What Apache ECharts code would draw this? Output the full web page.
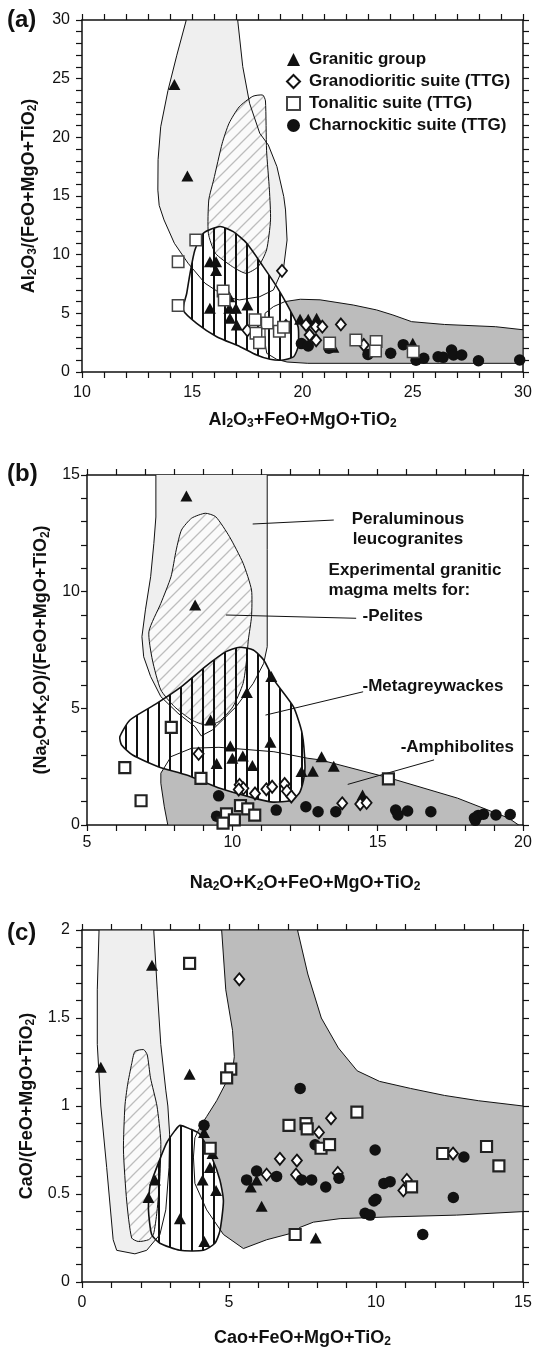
<!DOCTYPE html>
<html>
<head>
<meta charset="utf-8">
<script src="https://cdn.jsdelivr.net/npm/echarts@6/dist/echarts.min.js"></script>
<style>
  html, body { margin: 0; padding: 0; background: #fff; }
  #chart { width: 536px; height: 1349px; }
</style>
</head>
<body>
<div id="chart"></div>
<script>
// ---------------- data ----------------
const NAMES = ['Granitic group', 'Granodioritic suite (TTG)', 'Tonalitic suite (TTG)', 'Charnockitic suite (TTG)'];

// axis ranges: [min, max, major step]
const aXAxis = [10, 30, 5], aYAxis = [0, 30, 5];
const bXAxis = [5, 20, 5],  bYAxis = [0, 15, 5];
const cXAxis = [0, 15, 5],  cYAxis = [0, 2, 0.5];

// (a) Al2O3/(FeO+MgO+TiO2) vs Al2O3+FeO+MgO+TiO2
const aGranitic = [[14.19,24.5],[14.78,16.7],[15.8,9.4],[16.08,9.4],[16.08,8.64],[15.8,5.43],[16.68,6.42],[16.68,5.43],[16.98,5.43],[17.5,5.71],[16.71,4.58],[17.02,4.0],[19.89,4.5],[20.26,4.5],[20.64,4.58],[21.4,2.1],[25.0,2.45]];
const aGranodioritic = [[19.07,8.62],[17.5,3.55],[19.25,3.92],[20.16,4.0],[20.6,3.86],[20.9,3.86],[20.32,3.15],[20.62,2.7],[21.74,4.05],[22.78,2.3]];
const aTonalitic = [[15.16,11.25],[14.36,9.4],[14.36,5.67],[16.4,6.9],[16.45,6.14],[17.85,4.46],[18.4,4.18],[17.89,3.3],[18.05,2.5],[18.95,3.47],[19.14,3.82],[21.23,2.47],[22.42,2.73],[23.34,2.59],[23.31,1.78],[25.02,1.73]];
const aCharnockitic = [[19.95,2.42],[20.26,2.22],[21.2,2.02],[22.97,1.5],[24.0,1.6],[24.57,2.33],[25.15,1.0],[25.5,1.17],[26.15,1.3],[26.38,1.25],[26.76,1.88],[26.85,1.45],[27.22,1.45],[27.98,0.96],[29.85,1.02]];
const aLeucogranite = [[14.73,30],[14.3,27],[13.9,24],[13.57,20.9],[13.45,18.1],[13.44,15.5],[13.5,14.2],[13.72,12.96],[14.19,10.97],[14.81,9.27],[15.58,7.56],[16.51,6.42],[17.13,6.14],[18.06,6.42],[18.68,6.99],[19.15,8.98],[19.3,11.25],[19.23,13.81],[19.15,14.95],[18.84,17.5],[18.45,19.35],[18.06,20.35],[17.6,22.9],[17.29,26.03],[17.06,30]];
const aPelite = [[17.75,23.5],[18.2,23.6],[18.32,23.1],[18.37,18.9],[18.5,15.5],[18.55,12.96],[18.37,10.4],[17.99,8.98],[17.44,8.41],[16.82,8.98],[16.05,10.12],[15.73,11.82],[15.75,14.66],[15.97,16.37],[16.36,19.5],[16.67,21.2],[17.13,22.6]];
const aMetagreywacke = [[16.26,12.4],[16.86,11.96],[17.47,10.97],[18.22,8.98],[18.83,7.27],[19.43,5.29],[19.8,3.86],[19.8,2.16],[19.6,1.3],[19.13,1.02],[18.53,1.08],[17.92,1.45],[17.17,2.16],[16.11,3.01],[15.2,4.15],[14.59,5.29],[14.75,6.71],[14.9,8.41],[15.12,10.4],[15.5,11.82]];
const aAmphibolite = [[18.3,3.86],[18.3,5.0],[18.68,5.57],[19.2,6.0],[19.9,6.2],[20.8,6.15],[22.3,5.71],[23.36,5.29],[24.1,4.86],[24.95,4.29],[26.44,4.05],[28.76,3.86],[30,3.6],[30,0.74],[20.24,0.74],[19.3,0.85],[18.83,1.08],[18.38,1.59],[18.3,2.5]];

// (b) (Na2O+K2O)/(FeO+MgO+TiO2) vs Na2O+K2O+FeO+MgO+TiO2
const bGranitic = [[8.42,14.1],[8.72,9.43],[9.25,4.5],[10.5,5.68],[11.34,6.36],[11.31,3.55],[9.93,3.39],[10.0,2.86],[10.36,2.96],[9.46,2.64],[10.69,2.55],[12.38,2.29],[12.77,2.3],[13.07,2.93],[13.49,2.52],[14.48,1.29]];
const bGranodioritic = [[8.84,3.05],[10.25,1.72],[10.38,1.57],[10.22,1.52],[10.78,1.35],[11.17,1.53],[11.37,1.64],[11.8,1.76],[11.88,1.45],[12.03,1.22],[13.78,0.93],[14.4,0.9],[14.62,0.95]];
const bTonalitic = [[7.9,4.18],[6.3,2.46],[6.86,1.04],[8.92,2.0],[15.37,1.98],[10.28,0.83],[10.53,0.69],[10.77,0.42],[9.8,0.48],[9.68,0.08],[10.07,0.22]];
const bCharnockitic = [[9.53,1.25],[9.46,0.38],[11.51,0.64],[12.53,0.78],[12.95,0.57],[13.56,0.57],[15.62,0.64],[15.7,0.43],[16.03,0.6],[16.83,0.57],[18.33,0.3],[18.36,0.2],[18.46,0.41],[18.64,0.46],[19.07,0.43],[19.56,0.45]];
const bLeucogranite = [[7.37,15.2],[7.37,13.2],[7.3,12.07],[7.19,10.64],[7.01,9.22],[6.89,8.07],[6.95,7.21],[7.19,6.36],[7.54,5.5],[8.13,4.79],[8.72,4.21],[8.93,3.82],[9.31,4.07],[10.13,5.07],[10.72,6.07],[11.08,6.93],[11.2,7.64],[11.2,11.8],[11.2,15.2]];
const bPelite = [[9.07,13.36],[9.43,13.21],[9.9,12.36],[10.37,11.22],[10.66,10.07],[10.66,8.93],[10.55,7.93],[10.49,7.07],[10.37,6.07],[10.02,5.07],[9.54,4.43],[9.07,4.29],[8.6,4.5],[8.01,5.07],[7.54,5.79],[7.25,7.07],[7.13,8.29],[7.54,9.5],[7.89,10.64],[8.07,11.79],[8.25,12.64],[8.6,13.15]];
const bMetagreywacke = [[6.13,3.78],[6.48,4.5],[7.4,5.21],[8.25,5.93],[9.07,6.79],[9.78,7.43],[10.25,7.62],[10.72,7.5],[11.08,7.07],[11.43,6.22],[12.1,5.07],[12.4,3.93],[12.5,2.5],[12.45,1.93],[12.3,1.36],[12.0,1.05],[11.4,0.98],[10.84,1.12],[9.6,1.56],[8.43,2.14],[7.45,2.5],[6.57,3.0],[6.19,3.43]];
const bAmphibolite = [[7.54,2.22],[7.89,2.93],[8.6,3.29],[9.54,3.33],[11.43,3.14],[12.6,2.86],[13.03,2.79],[15.45,2.0],[17.75,1.15],[19.5,0.3],[19.85,0],[7.78,0],[7.66,0.78],[7.54,1.79]];
const bLeaders = [[[10.7,12.9],[13.49,13.07]], [[9.78,9.0],[14.26,8.86]], [[11.14,4.71],[14.5,5.71]], [[13.97,1.74],[16.94,2.79]]];
const bNoteText = ['Peraluminous\nleucogranites', 'Experimental granitic\nmagma melts for:', '-Pelites', '-Metagreywackes', '-Amphibolites'];
const bNoteAt = [[16.04,12.66], [13.31,10.5], [14.48,8.93], [14.48,5.93], [15.79,3.33]];

// (c) CaO/(FeO+MgO+TiO2) vs CaO+FeO+MgO+TiO2
const cGranitic = [[2.38,1.8],[0.64,1.22],[3.66,1.18],[4.15,0.85],[4.44,0.73],[4.35,0.65],[2.48,0.58],[2.26,0.48],[4.1,0.58],[4.56,0.52],[3.33,0.36],[4.16,0.23],[5.74,0.54],[5.94,0.58],[6.11,0.43],[7.95,0.25]];
const cGranodioritic = [[5.35,1.72],[6.73,0.7],[7.31,0.69],[6.28,0.61],[7.28,0.61],[8.47,0.93],[8.06,0.85],[8.7,0.62],[11.05,0.58],[10.93,0.52],[12.62,0.73]];
const cTonalitic = [[3.66,1.81],[5.06,1.21],[4.92,1.16],[9.35,0.965],[7.04,0.89],[7.62,0.9],[7.66,0.87],[8.13,0.76],[8.42,0.78],[4.36,0.76],[12.27,0.73],[13.76,0.77],[14.18,0.66],[11.21,0.54],[7.25,0.27]];
const cCharnockitic = [[4.15,0.89],[5.94,0.63],[5.6,0.58],[6.62,0.6],[7.42,1.1],[7.93,0.78],[9.97,0.75],[7.47,0.58],[7.81,0.58],[8.29,0.54],[8.74,0.59],[10.27,0.56],[10.48,0.57],[10.0,0.47],[9.93,0.46],[9.63,0.39],[9.8,0.38],[12.99,0.71],[12.63,0.48],[11.59,0.27]];
const cLeucogranite = [[0.58,2.0],[0.52,1.66],[0.52,1.35],[0.64,1.0],[0.84,0.65],[1.06,0.24],[1.18,0.18],[1.8,0.16],[2.2,0.18],[2.65,0.27],[2.85,0.41],[2.96,0.65],[2.98,0.84],[2.92,1.0],[2.85,1.09],[2.68,1.35],[2.56,1.66],[2.44,2.0]];
const cPelite = [[1.8,1.31],[2.1,1.32],[2.22,1.29],[2.33,1.16],[2.55,1.0],[2.68,0.8],[2.65,0.6],[2.55,0.4],[2.43,0.27],[2.26,0.24],[1.92,0.23],[1.69,0.25],[1.52,0.46],[1.41,0.75],[1.46,1.0],[1.55,1.12],[1.69,1.24]];
const cMetagreywacke = [[3.33,0.89],[3.67,0.87],[4.01,0.84],[4.41,0.71],[4.69,0.58],[4.81,0.46],[4.69,0.29],[4.52,0.22],[4.13,0.18],[3.33,0.18],[2.65,0.22],[2.37,0.27],[2.26,0.41],[2.31,0.54],[2.54,0.65],[2.88,0.79],[3.16,0.86]];
const cAmphibolite = [[4.75,2.0],[4.89,1.66],[5.12,1.43],[5.18,1.28],[5.12,1.2],[4.89,1.13],[4.58,1.03],[4.24,0.94],[4.01,0.88],[3.84,0.82],[3.79,0.71],[3.84,0.56],[4.24,0.41],[4.81,0.27],[5.49,0.19],[6.28,0.24],[7.19,0.28],[7.41,0.31],[7.87,0.34],[8.78,0.36],[10.48,0.37],[12.74,0.38],[15,0.4],[15,1.0],[13.49,1.03],[12.33,1.06],[11.17,1.1],[10.12,1.14],[9.36,1.2],[8.72,1.33],[8.14,1.5],[7.68,1.75],[7.33,2.0]];

// ---------------- styling ----------------
const FONT = "'Liberation Sans', Arial, Helvetica, sans-serif";
const INK = '#111';

// vertical-line hatch (lines only, transparent gaps)
function vLinePattern() {
  const c = document.createElement('canvas');
  c.width = 11; c.height = 8;
  const g = c.getContext('2d');
  g.fillStyle = '#111';
  g.fillRect(4, 0, 2, 8);
  return { image: c, repeat: 'repeat' };
}
// light diagonal hatch on a near-white ground
function diagPattern() {
  const s = 12;
  const c = document.createElement('canvas');
  c.width = s; c.height = s;
  const g = c.getContext('2d');
  g.fillStyle = '#fafafa';
  g.fillRect(0, 0, s, s);
  g.strokeStyle = '#bdbdbd';
  g.lineWidth = 1.3;
  g.beginPath();
  g.moveTo(-1, s + 1); g.lineTo(s + 1, -1);
  g.moveTo(-1, 1); g.lineTo(1, -1);
  g.moveTo(s - 1, s + 1); g.lineTo(s + 1, s - 1);
  g.stroke();
  return { image: c, repeat: 'repeat' };
}
const VLINES = vLinePattern();
const DIAG = diagPattern();

const RICH = {
  n: { fontSize: 18, fontWeight: 'bold', fontFamily: FONT, color: INK, lineHeight: 20 },
  s: { fontSize: 12, fontWeight: 'bold', fontFamily: FONT, color: INK, lineHeight: 8, verticalAlign: 'bottom' }
};

const GRIDS = [
  { left: 82, top: 20, width: 441, height: 352 },
  { left: 87, top: 475, width: 436, height: 350 },
  { left: 82, top: 930, width: 441, height: 352 }
];

function axisPair(gridIndex, range, dir, name, labelMargin, gap) {
  const base = {
    gridIndex, type: 'value', min: range[0], max: range[1], interval: range[2],
    axisLine: { show: true, onZero: false, lineStyle: { color: INK, width: 1.5 } },
    axisTick: { show: true, inside: false, length: 6, lineStyle: { color: INK, width: 1.2 } },
    minorTick: { show: true, splitNumber: 5, length: 6, lineStyle: { color: INK, width: 1.2 } },
    splitLine: { show: false }, minorSplitLine: { show: false }
  };
  const main = Object.assign({}, base, {
    position: dir === 'x' ? 'bottom' : 'left',
    axisLabel: { show: true, color: INK, fontSize: 16, fontFamily: FONT, margin: labelMargin },
    name: name, nameLocation: 'middle', nameGap: gap, nameRotate: dir === 'y' ? 90 : 0,
    nameTextStyle: { fontSize: 18, fontWeight: 'bold', fontFamily: FONT, color: INK, rich: RICH }
  });
  const mirror = Object.assign({}, base, {
    position: dir === 'x' ? 'top' : 'right',
    axisLabel: { show: false }
  });
  return [main, mirror];
}

function fieldSeries(panel, f) {
  return {
    type: 'custom', xAxisIndex: panel * 2, yAxisIndex: panel * 2,
    clip: true, silent: true, z: 1, data: [0],
    renderItem(params, api) {
      const P = poly => poly.map(p => api.coord(p));
      const L = P(f.leuco), Pe = P(f.pelite), M = P(f.meta), A = P(f.amph);
      const poly = (pts, style, smooth) => ({ type: 'polygon', shape: { points: pts, smooth: smooth || 0 }, style });
      const line = { fill: null, stroke: INK, lineWidth: 1 };
      return {
        type: 'group', children: [
          poly(L, { fill: '#efefef' }),
          poly(A, { fill: '#bcbcbc' }),
          poly(M, { fill: '#ffffff' }, 0.2),
          poly(Pe, { fill: DIAG }, 0.2),
          poly(M, { fill: VLINES }, 0.2),
          poly(L, line),
          poly(A, line),
          poly(Pe, line, 0.2),
          poly(M, { fill: null, stroke: INK, lineWidth: 1.6 }, 0.2)
        ]
      };
    }
  };
}

// marker styles per group: triangle, diamond, square, dot
const MARK = [
  { symbol: 'triangle', symbolSize: [12, 11], itemStyle: { color: INK, opacity: 1 }, z: 3 },
  { symbol: 'diamond', symbolSize: [10, 12], itemStyle: { color: '#fff', borderColor: INK, borderWidth: 1.8, opacity: 1 }, z: 4 },
  { symbol: 'rect', symbolSize: 11, itemStyle: { color: '#fff', borderColor: '#222', borderWidth: 2.2, opacity: 1 }, z: 6 },
  { symbol: 'circle', symbolSize: 11.5, itemStyle: { color: INK, opacity: 1 }, z: 5 }
];
const SQUARE_A = { symbolSize: 11.5, itemStyle: { color: '#fff', borderColor: '#444', borderWidth: 1.5, opacity: 1 } };

function pointSeries(panel, sets) {
  return sets.map((data, k) => {
    const s = Object.assign({
      type: 'scatter', name: NAMES[k], xAxisIndex: panel * 2, yAxisIndex: panel * 2,
      data: data, silent: true
    }, MARK[k]);
    if (panel === 0 && k === 2) Object.assign(s, SQUARE_A);
    return s;
  });
}

const notesSeries = {
  type: 'custom', xAxisIndex: 2, yAxisIndex: 2, clip: false, silent: true, z: 2, data: [0],
  renderItem(params, api) {
    const kids = bLeaders.map(seg => {
      const p1 = api.coord(seg[0]), p2 = api.coord(seg[1]);
      return { type: 'line', shape: { x1: p1[0], y1: p1[1], x2: p2[0], y2: p2[1] }, style: { stroke: INK, lineWidth: 1 } };
    });
    bNoteText.forEach((t, i) => {
      const p = api.coord(bNoteAt[i]);
      kids.push({
        type: 'text', x: p[0], y: p[1],
        style: { text: t, fill: INK, font: 'bold 17px ' + FONT, align: i === 0 ? 'center' : 'left', verticalAlign: 'middle', lineHeight: 20 }
      });
    });
    return { type: 'group', children: kids };
  }
};

const xAxes = [].concat(
  axisPair(0, aXAxis, 'x', '{n|Al}{s|2}{n|O}{s|3}{n|+FeO+MgO+TiO}{s|2}', 13, 38),
  axisPair(1, bXAxis, 'x', '{n|Na}{s|2}{n|O+K}{s|2}{n|O+FeO+MgO+TiO}{s|2}', 10, 48),
  axisPair(2, cXAxis, 'x', '{n|Cao+FeO+MgO+TiO}{s|2}', 13, 46)
);
const yAxes = [].concat(
  axisPair(0, aYAxis, 'y', '{n|Al}{s|2}{n|O}{s|3}{n|/(FeO+MgO+TiO}{s|2}{n|)}', 12, 43),
  axisPair(1, bYAxis, 'y', '{n|(Na}{s|2}{n|O+K}{s|2}{n|O)/(FeO+MgO+TiO}{s|2}{n|)}', 7, 34),
  axisPair(2, cYAxis, 'y', '{n|CaO/(FeO+MgO+TiO}{s|2}{n|)}', 12, 42)
);

const series = [].concat(
  [fieldSeries(0, { leuco: aLeucogranite, pelite: aPelite, meta: aMetagreywacke, amph: aAmphibolite })],
  pointSeries(0, [aGranitic, aGranodioritic, aTonalitic, aCharnockitic]),
  [fieldSeries(1, { leuco: bLeucogranite, pelite: bPelite, meta: bMetagreywacke, amph: bAmphibolite }), notesSeries],
  pointSeries(1, [bGranitic, bGranodioritic, bTonalitic, bCharnockitic]),
  [fieldSeries(2, { leuco: cLeucogranite, pelite: cPelite, meta: cMetagreywacke, amph: cAmphibolite })],
  pointSeries(2, [cGranitic, cGranodioritic, cTonalitic, cCharnockitic])
);

const panelTitle = (text, top) => ({
  text, left: 7, top, padding: 0,
  textStyle: { fontSize: 24, fontWeight: 'bold', fontFamily: FONT, color: INK }
});

const chart = echarts.init(document.getElementById('chart'), null, { renderer: 'canvas' });
chart.setOption({
  animation: false,
  backgroundColor: '#fff',
  textStyle: { fontFamily: FONT },
  title: [panelTitle('(a)', 8), panelTitle('(b)', 462), panelTitle('(c)', 921)],
  legend: {
    data: NAMES, orient: 'vertical', left: 286, top: 51, padding: 0,
    itemGap: 5, itemWidth: 13, itemHeight: 13, selectedMode: false,
    textStyle: { fontSize: 17, fontWeight: 'bold', fontFamily: FONT, color: INK, padding: [0, 0, 0, 4] }
  },
  grid: GRIDS,
  xAxis: xAxes,
  yAxis: yAxes,
  series
});
</script>
</body>
</html>
